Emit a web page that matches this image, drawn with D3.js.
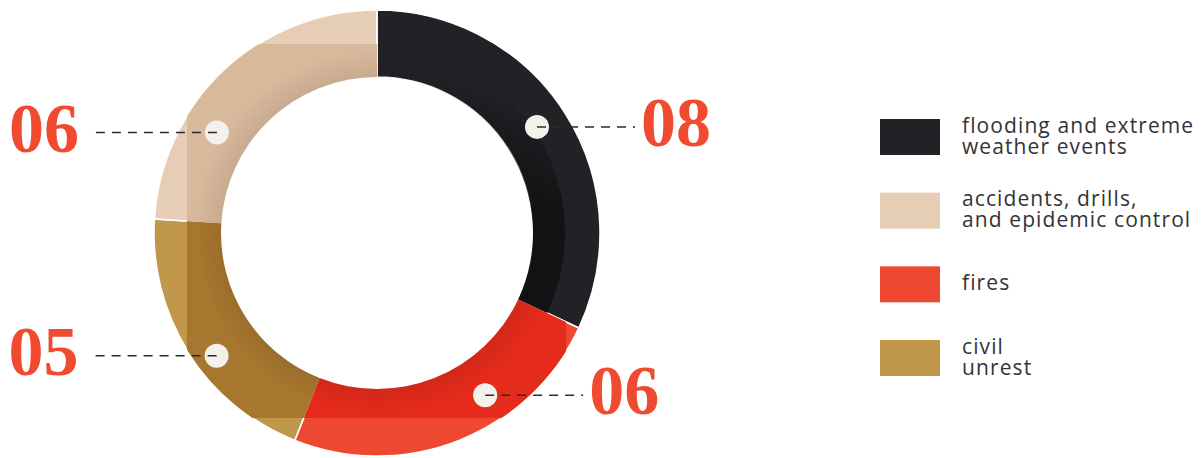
<!DOCTYPE html>
<html>
<head>
<meta charset="utf-8">
<script src="https://cdn.jsdelivr.net/npm/d3@7"></script>
<style>
  body { margin: 0; background: #fff; }
  svg { display: block; }
</style>
</head>
<body>
<svg id="donut"></svg>
<script>
const width = 1203;
const height = 458;

// data, in pie order (clockwise from 12 o'clock)
const categories = ['flooding', 'fires', 'civil', 'accidents'];
const counts = [8, 6, 5, 6];

// legend, in its own order
const legendKeys = ['flooding', 'accidents', 'fires', 'civil'];
const legendLabels = [
  ['flooding and extreme', 'weather events'],
  ['accidents, drills,', 'and epidemic control'],
  ['fires'],
  ['civil', 'unrest']
];

// colors (base / shaded)
const baseColor = d3.scaleOrdinal()
  .domain(categories)
  .range(['#222126', '#ef4830', '#c1974b', '#e5cdb6']);
const shadeColor = d3.scaleOrdinal()
  .domain(categories)
  .range(['#131315', '#e52b1b', '#a8772f', '#d9b99c']);

// where each callout dot sits: fraction along the slice, radius
const calloutAt = {
  flooding: [0.49, 192],
  fires: [0.36, 195],
  civil: [0.43, 202],
  accidents: [0.33, 189]
};

const cx = 377;
const cy = 233;
const outerR = 223;
const innerR = 156;

const svg = d3.select('#donut')
  .attr('width', width)
  .attr('height', height);

const defs = svg.append('defs');

// shading shapes: a circle for the dark slice, a square for the rest
defs.append('clipPath').attr('id', 'shade-circle')
  .append('circle').attr('cx', cx).attr('cy', cy).attr('r', 188);
defs.append('clipPath').attr('id', 'shade-square')
  .append('rect')
    .attr('x', cx - 190).attr('y', cy - 189)
    .attr('width', 379).attr('height', 374);

// the dark slice's shade fades out towards the top (coords relative to centre)
const fade = defs.append('linearGradient')
  .attr('id', 'shade-fade')
  .attr('gradientUnits', 'userSpaceOnUse')
  .attr('x1', 0).attr('y1', -150)
  .attr('x2', 0).attr('y2', -20);
fade.append('stop').attr('offset', 0).attr('stop-color', shadeColor('flooding')).attr('stop-opacity', 0);
fade.append('stop').attr('offset', 1).attr('stop-color', shadeColor('flooding')).attr('stop-opacity', 1);

const innerShade = defs.append('radialGradient')
  .attr('id', 'inner-shade')
  .attr('gradientUnits', 'userSpaceOnUse')
  .attr('cx', cx).attr('cy', cy).attr('r', outerR);
innerShade.append('stop').attr('offset', innerR / outerR).attr('stop-color', '#000').attr('stop-opacity', 0.08);
innerShade.append('stop').attr('offset', 0.82).attr('stop-color', '#000').attr('stop-opacity', 0);

const pie = d3.pie().sort(null).value(d => d.count);
const arcs = pie(categories.map((key, i) => ({ key, count: counts[i] })));

const arc = d3.arc().innerRadius(innerR).outerRadius(outerR);

const chart = svg.append('g').attr('transform', `translate(${cx}, ${cy})`);

// base slices
chart.selectAll('.slice')
  .data(arcs)
  .join('path')
    .classed('slice', true)
    .attr('d', arc)
    .attr('fill', d => baseColor(d.data.key));

// shaded part of each slice
svg.append('g')
  .selectAll('g')
  .data(arcs)
  .join('g')
    .attr('clip-path', d => d.data.key === 'flooding' ? 'url(#shade-circle)' : 'url(#shade-square)')
  .append('path')
    .attr('transform', `translate(${cx}, ${cy})`)
    .attr('d', arc)
    .attr('fill', d => d.data.key === 'flooding' ? 'url(#shade-fade)' : shadeColor(d.data.key));

// darker towards the hole
svg.append('circle')
  .attr('cx', cx).attr('cy', cy)
  .attr('r', (innerR + outerR) / 2)
  .attr('fill', 'none')
  .attr('stroke', 'url(#inner-shade)')
  .attr('stroke-width', outerR - innerR);

// thin white separators
chart.selectAll('.sep')
  .data(arcs)
  .join('path')
    .classed('sep', true)
    .attr('d', arc)
    .attr('fill', 'none')
    .attr('stroke', '#fff')
    .attr('stroke-width', 1.5);

// callouts
const fmt = d3.format('02d');
const callouts = arcs.map(d => {
  const [t, r] = calloutAt[d.data.key];
  const a = d.startAngle + (d.endAngle - d.startAngle) * t;
  const x = cx + r * Math.sin(a);
  const y = cy - r * Math.cos(a);
  const right = x > cx;
  return { d, x, y, right, lineEnd: right ? x + 98 : x - 126 };
});

const callout = svg.append('g')
  .selectAll('g')
  .data(callouts)
  .join('g');

callout.append('circle')
  .attr('cx', c => c.x)
  .attr('cy', c => c.y)
  .attr('r', 12)
  .attr('fill', '#f2f1ec');

callout.append('line')
  .attr('x1', c => c.x)
  .attr('y1', c => c.y)
  .attr('x2', c => c.lineEnd)
  .attr('y2', c => c.y)
  .attr('stroke', '#2b2a2e')
  .attr('stroke-width', 1.5)
  .attr('stroke-dasharray', '9 7');

callout.append('text')
  .attr('x', c => c.right ? c.lineEnd + 6 : c.lineEnd - 12)
  .attr('y', c => c.y + 19)
  .attr('text-anchor', c => c.right ? 'start' : 'end')
  .attr('font-family', '"Liberation Serif", serif')
  .attr('font-weight', 'bold')
  .attr('font-size', 70)
  .attr('fill', '#f04a31')
  .text(c => fmt(c.d.data.count));

// legend
const legendY = d3.scaleLinear().domain([0, legendKeys.length - 1]).range([119, 340]);

const legend = svg.append('g')
  .selectAll('g')
  .data(legendKeys)
  .join('g')
    .attr('transform', (k, i) => `translate(880, ${legendY(i)})`);

legend.append('rect')
  .attr('width', 60)
  .attr('height', 36)
  .attr('fill', k => baseColor(k));

legend.append('text')
  .attr('font-family', '"Open Sans", sans-serif')
  .attr('font-size', 21)
  .attr('letter-spacing', 1.1)
  .attr('fill', '#333336')
  .each(function (k, i) {
    const lines = legendLabels[i];
    const lh = 21;
    const top = 18 - (lines.length - 1) * lh / 2 + 6;
    d3.select(this).selectAll('tspan')
      .data(lines)
      .join('tspan')
        .attr('x', 82)
        .attr('y', (l, j) => top + j * lh)
        .text(l => l);
  });
</script>
</body>
</html>
